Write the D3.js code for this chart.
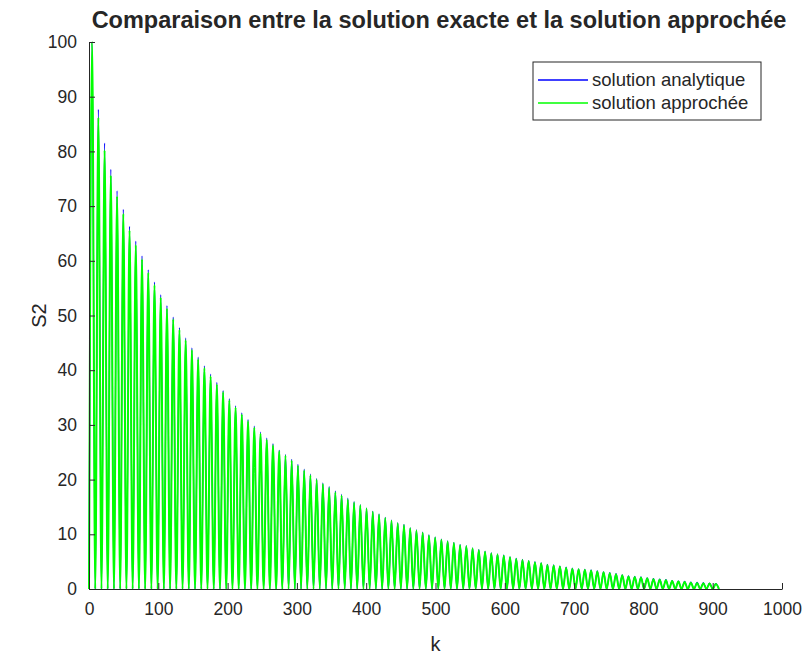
<!DOCTYPE html>
<html>
<head>
<meta charset="utf-8">
<script src="https://cdn.jsdelivr.net/npm/d3@7"></script>
<style>
  body { margin: 0; background: #fff; }
  svg { display: block; }
  text { font-family: "Liberation Sans", Arial, Helvetica, sans-serif; fill: #262626; }
</style>
</head>
<body>
<svg id="chart" width="807" height="658"></svg>
<script>
// ---- data ----------------------------------------------------------------
const titleText = "Comparaison entre la solution exacte et la solution approchée";
const xLabel = "k";
const yLabel = "S2";
const seriesNames = ["solution analytique", "solution approchée"];
const seriesColors = ["#0000ff", "#00ff00"];
const xTickValues = [0, 100, 200, 300, 400, 500, 600, 700, 800, 900, 1000];
const yTickValues = [0, 10, 20, 30, 40, 50, 60, 70, 80, 90, 100];

// Each oscillation goes from 0 up to a maximum and back to 0 over one cycle.
const cycleLength = 9;      // k between two successive minima
const troughValue = 0;

// maxima of the analytic solution, one per cycle
const peaksAnalytique = [
  100, 87.7, 81.5, 76.7, 72.8, 69.4, 66.3, 63.6, 60.9, 58.4,
  56.1, 53.8, 51.8, 49.7, 47.8, 45.9, 44.1, 42.4, 40.8, 39.3,
  37.8, 36.3, 34.8, 33.5, 32.2, 31.0, 29.8, 28.7, 27.6, 26.6,
  25.4, 24.6, 23.7, 22.8, 21.9, 21.0, 20.2, 19.4, 18.7, 17.9,
  17.3, 16.6, 16.0, 15.4, 14.8, 14.2, 13.7, 13.1, 12.6, 12.1,
  11.8, 11.2, 10.8, 10.4, 9.9, 9.5, 9.1, 8.8, 8.5, 8.1,
  7.9, 7.5, 7.2, 6.9, 6.6, 6.4, 6.2, 5.9, 5.6, 5.4,
  5.2, 5.0, 4.8, 4.5, 4.4, 4.2, 4.0, 3.8, 3.7, 3.6,
  3.5, 3.3, 3.15, 3.0, 2.8, 2.6, 2.4, 2.3, 2.2, 2.05,
  1.9, 1.8, 1.7, 1.55, 1.45, 1.4, 1.25, 1.2, 1.15, 1.1,
  1.0
];

// maxima of the approximate solution, one per cycle
const peaksApprochee = [
  100, 86.2, 80.2, 75.6, 71.8, 68.6, 65.6, 62.9, 60.3, 57.8,
  55.6, 53.3, 51.3, 49.3, 47.4, 45.5, 43.7, 42.0, 40.4, 38.9,
  37.4, 36.0, 34.5, 33.2, 31.9, 30.7, 29.5, 28.4, 27.3, 26.3,
  25.2, 24.4, 23.5, 22.6, 21.7, 20.8, 20.0, 19.2, 18.5, 17.7,
  17.1, 16.4, 15.8, 15.3, 14.7, 14.1, 13.6, 13.0, 12.5, 12.0,
  11.7, 11.1, 10.7, 10.3, 9.8, 9.4, 9.0, 8.7, 8.4, 8.0,
  7.8, 7.4, 7.1, 6.8, 6.5, 6.3, 6.1, 5.8, 5.5, 5.3,
  5.1, 4.9, 4.7, 4.4, 4.3, 4.1, 3.9, 3.7, 3.6, 3.5,
  3.4, 3.2, 3.05, 2.9, 2.7, 2.5, 2.3, 2.2, 2.1, 1.95,
  1.8, 1.7, 1.6, 1.45, 1.35, 1.3, 1.15, 1.1, 1.05, 1.0,
  0.9
];

// ---- layout --------------------------------------------------------------
const width = 807, height = 658;
const margin = { top: 42, right: 25, bottom: 69, left: 89 };
const svg = d3.select("#chart");

const x = d3.scaleLinear().domain([0, 1000]).range([margin.left, width - margin.right]);
const y = d3.scaleLinear().domain([0, 100]).range([height - margin.bottom, margin.top]);

// minima at the start of each cycle, maxima half a cycle later
function toPoints(peaks) {
  const pts = [];
  peaks.forEach((p, i) => {
    pts.push([i * cycleLength, troughValue]);
    pts.push([i * cycleLength + cycleLength / 2, p]);
  });
  pts.push([peaks.length * cycleLength, troughValue]);
  return pts;
}

const line = d3.line()
  .x(d => x(d[0]))
  .y(d => y(d[1]))
  .curve(d3.curveMonotoneX);

const seriesWidths = [1.2, 2];
const plot = svg.append("g");
[peaksAnalytique, peaksApprochee].forEach((peaks, i) => {
  plot.append("path")
    .datum(toPoints(peaks))
    .attr("fill", "none")
    .attr("stroke", seriesColors[i])
    .attr("stroke-width", seriesWidths[i])
    .attr("stroke-linejoin", "round")
    .attr("d", line);
});

// ---- axes (box off, ticks pointing inwards) -----------------------------
const axisColor = "#262626";
const xAxis = svg.append("g")
  .attr("transform", `translate(0,${y(0)})`)
  .call(d3.axisBottom(x).tickValues(xTickValues).tickFormat(d3.format("d"))
    .tickSizeInner(-6).tickSizeOuter(0).tickPadding(14));
const yAxis = svg.append("g")
  .attr("transform", `translate(${x(0)},0)`)
  .call(d3.axisLeft(y).tickValues(yTickValues).tickFormat(d3.format("d"))
    .tickSizeInner(-6).tickSizeOuter(0).tickPadding(12));

[xAxis, yAxis].forEach(g => {
  g.select(".domain").attr("stroke", axisColor).attr("stroke-width", 1);
  g.selectAll(".tick line").attr("stroke", axisColor).attr("stroke-width", 1);
  g.selectAll(".tick text")
    .attr("fill", "#404040")
    .style("font-size", "17.5px")
    .style("font-family", '"Liberation Sans", Arial, Helvetica, sans-serif');
});

// ---- labels --------------------------------------------------------------
svg.append("text")
  .attr("x", 439)
  .attr("y", 28)
  .attr("text-anchor", "middle")
  .style("font-size", "23.5px")
  .style("font-weight", "bold")
  .attr("fill", "#000")
  .text(titleText);

svg.append("text")
  .attr("x", (x(0) + x(1000)) / 2)
  .attr("y", 651)
  .attr("text-anchor", "middle")
  .style("font-size", "20px")
  .attr("fill", "#404040")
  .text(xLabel);

svg.append("text")
  .attr("transform", `translate(46,${(y(0) + y(100)) / 2}) rotate(-90)`)
  .attr("text-anchor", "middle")
  .style("font-size", "20px")
  .attr("fill", "#404040")
  .text(yLabel);

// ---- legend --------------------------------------------------------------
const legend = svg.append("g").attr("transform", "translate(533,62)");
legend.append("rect")
  .attr("width", 228).attr("height", 58)
  .attr("fill", "#fff")
  .attr("stroke", axisColor)
  .attr("stroke-width", 1);
seriesNames.forEach((name, i) => {
  const cy = 18 + i * 23;
  legend.append("line")
    .attr("x1", 5).attr("x2", 55)
    .attr("y1", cy).attr("y2", cy)
    .attr("stroke", seriesColors[i])
    .attr("stroke-width", 1.3);
  legend.append("text")
    .attr("x", 59).attr("y", cy + 6)
    .style("font-size", "18.5px")
    .attr("fill", "#000")
    .text(name);
});
</script>
</body>
</html>
